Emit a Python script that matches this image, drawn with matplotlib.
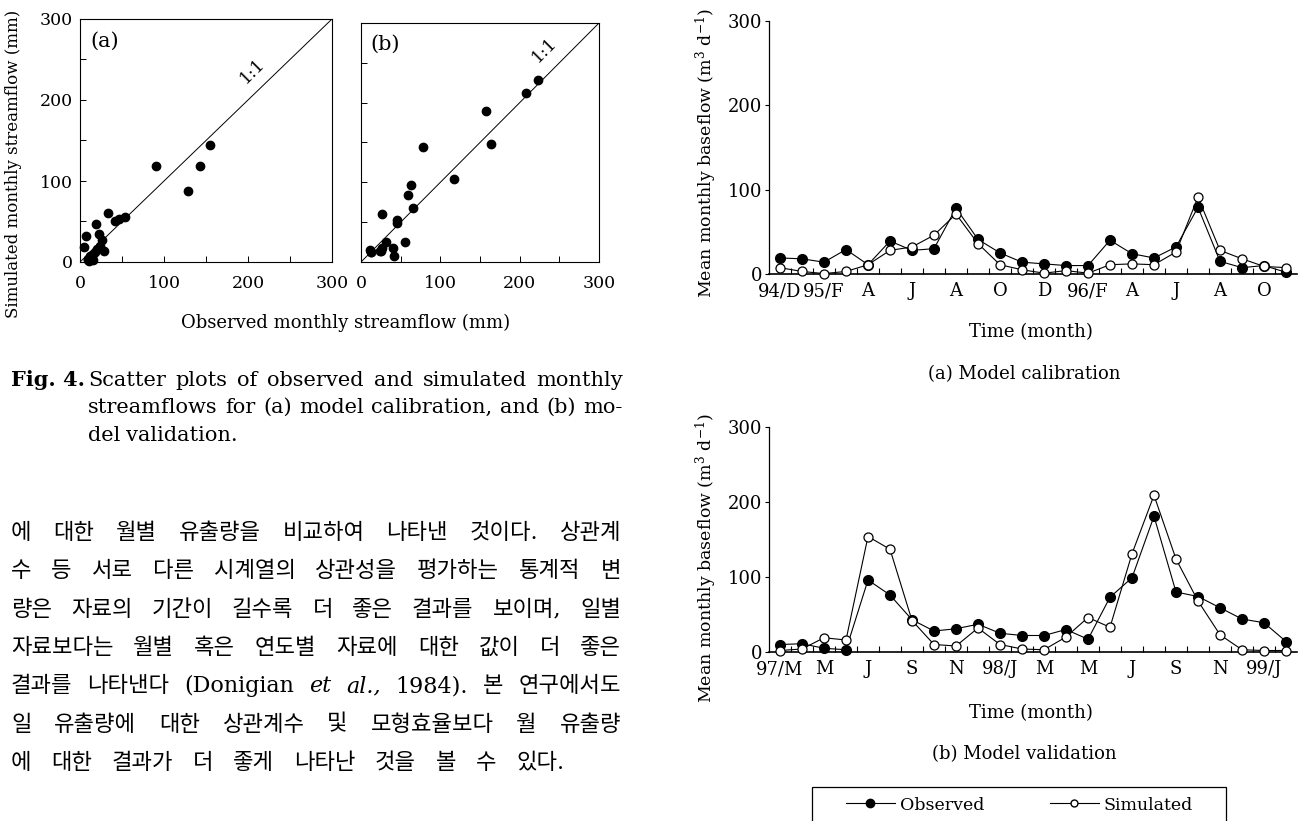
import matplotlib
matplotlib.use("Agg")
import matplotlib.pyplot as plt
from matplotlib.lines import Line2D
from matplotlib.patches import Rectangle
from matplotlib.ticker import MultipleLocator, FixedLocator
import numpy as np

plt.rcParams['font.family'] = ['DejaVu Serif', 'Noto Sans CJK KR']
plt.rcParams['mathtext.fontset'] = 'dejavuserif'

# ---- scatter data: monthly streamflow (mm) ----
obs_a = [91, 143, 128, 155, 33, 19, 7, 5, 23, 42, 47, 54, 26, 29, 20, 12, 10, 9, 16, 13, 24, 18, 11, 15]
sim_a = [118, 119, 88, 144, 60, 47, 32, 19, 34, 51, 53, 55, 27, 14, 16, 8, 4, 2, 10, 6, 20, 12, 1, 3]
obs_b = [223, 208, 158, 164, 78, 117, 63, 59, 65, 26, 45, 46, 31, 56, 11, 13, 24, 27, 40, 42, 12, 25]
sim_b = [229, 212, 189, 148, 144, 104, 97, 84, 68, 60, 53, 49, 25, 25, 15, 12, 14, 17, 17, 7, 13, 14]

# ---- time series: mean monthly baseflow ----
cal_labels = ['94/D', '95/F', 'A', 'J', 'A', 'O', 'D', '96/F', 'A', 'J', 'A', 'O']
cal_obs = [19, 18, 14, 29, 11, 39, 28, 30, 78, 41, 25, 14, 12, 10, 10, 40, 24, 19, 32, 79, 15, 7.5, 10, 2]
cal_sim = [7.5, 3, 0.5, 3, 11, 28, 32, 46, 71, 36, 11, 5, 1, 4, 1, 11, 12, 11, 26, 91, 28, 18, 9, 7.5]

val_labels = ['97/M', 'M', 'J', 'S', 'N', '98/J', 'M', 'M', 'J', 'S', 'N', '99/J']
val_obs = [10, 11, 5, 3, 96, 76, 43, 28, 31, 37, 25, 22, 22, 30, 17, 73, 99, 181, 80, 74, 59, 44, 39, 14]
val_sim = [2, 4, 19, 16, 154, 137, 42, 10, 8, 32, 10, 4, 3, 20, 46, 33, 131, 209, 124, 68, 23, 3, 2, 2]

caption_lines = ["Scatter plots of observed and simulated monthly",
                 "streamflows for (a) model calibration, and (b) mo-",
                 "del validation."]

# words between | | are set in italics
kor_lines = [
    "에 대한 월별 유출량을 비교하여 나타낸 것이다. 상관계",
    "수 등 서로 다른 시계열의 상관성을 평가하는 통계적 변",
    "량은 자료의 기간이 길수록 더 좋은 결과를 보이며, 일별",
    "자료보다는 월별 혹은 연도별 자료에 대한 값이 더 좋은",
    "결과를 나타낸다 (Donigian |et al.,| 1984). 본 연구에서도",
    "일 유출량에 대한 상관계수 및 모형효율보다 월 유출량",
    "에 대한 결과가 더 좋게 나타난 것을 볼 수 있다.",
]

W, H = 1298, 821
fig = plt.figure(figsize=(W / 100, H / 100), dpi=100)


def box(l, t, r, b):
    return [l / W, 1 - b / H, (r - l) / W, (b - t) / H]


def fx(x):
    return x / W


def fy(y):
    return 1 - y / H


# ---------------- scatter plots ----------------
for rect, xs, ys, tag, lab_xy in [((80, 19, 332, 262), obs_a, sim_a, '(a)', (206, 236)),
                                  ((361, 23, 599, 262), obs_b, sim_b, '(b)', (232, 266))]:
    ax = fig.add_axes(box(*rect))
    ax.plot([0, 300], [0, 300], color='k', lw=0.7)
    ax.plot(xs, ys, 'o', color='k', ms=6, clip_on=False)
    ax.set_xlim(0, 300)
    ax.set_ylim(0, 300)
    ax.xaxis.set_major_locator(MultipleLocator(100))
    ax.yaxis.set_major_locator(MultipleLocator(100))
    ax.xaxis.set_minor_locator(MultipleLocator(50))
    ax.yaxis.set_minor_locator(MultipleLocator(50))
    ax.tick_params(which='both', direction='in', top=False, right=False,
                   length=4, width=0.7, labelsize=12.5)
    ax.tick_params(axis='x', pad=9)
    ax.tick_params(axis='y', pad=5)
    for s in ax.spines.values():
        s.set_linewidth(0.8)
    ax.text(0.04, 0.91, tag, transform=ax.transAxes, fontsize=15, va='center')
    ax.text(lab_xy[0], lab_xy[1], '1:1', rotation=45, fontsize=12.5,
            ha='center', va='center')
    if tag == '(b)':
        ax.set_yticklabels([])

fig.text(fx(14), fy(164), 'Simulated monthly streamflow (mm)', rotation=90,
         ha='center', va='center', fontsize=12)
fig.text(fx(346), fy(323), 'Observed monthly streamflow (mm)',
         ha='center', va='center', fontsize=13)

# ---------------- time series ----------------
months = np.arange(24)
for rect, obs, sim, labels, ylab_y, xlab_y, sub_y, sub in [
        ((769, 20.7, 1297, 274), cal_obs, cal_sim, cal_labels, 153, 332, 374, '(a) Model calibration'),
        ((769, 427, 1297, 652), val_obs, val_sim, val_labels, 558, 713, 754, '(b) Model validation')]:
    ax = fig.add_axes(box(*rect))
    ax.plot(months, obs, '-o', color='k', mfc='k', ms=7, lw=0.8, clip_on=False, zorder=3)
    ax.plot(months, sim, '-o', color='k', mfc='white', ms=6.5, mew=0.9, lw=0.8,
            clip_on=False, zorder=4)
    ax.set_xlim(-0.5, 23.5)
    ax.set_ylim(0, 300)
    ax.spines['top'].set_visible(False)
    ax.spines['right'].set_visible(False)
    ax.spines['left'].set_linewidth(0.9)
    ax.spines['bottom'].set_linewidth(1.2)
    ax.set_xticks(months[::2])
    ax.set_xticklabels(labels)
    ax.xaxis.set_minor_locator(FixedLocator(np.arange(0.5, 23, 1)))
    ax.tick_params(axis='x', which='major', length=0, pad=6, labelsize=13)
    ax.tick_params(axis='x', which='minor', direction='in', length=4, width=0.8)
    ax.set_yticks([0, 100, 200, 300])
    ax.tick_params(axis='y', direction='out', length=3, width=0.8, pad=2, labelsize=13)
    fig.text(fx(706), fy(ylab_y), 'Mean monthly baseflow (m$^3$ d$^{-1}$)',
             rotation=90, ha='center', va='center', fontsize=12.5)
    fig.text(fx(1031), fy(xlab_y), 'Time (month)', ha='center', va='center', fontsize=13)
    fig.text(fx(1024), fy(sub_y), sub, ha='center', va='center', fontsize=13)

# legend box, partly running off the bottom of the page
fig.add_artist(Rectangle((fx(812), fy(835)), fx(1226) - fx(812), fy(787) - fy(835),
                         transform=fig.transFigure, fill=False, ec='k', lw=0.9))
handles = [Line2D([], [], color='k', marker='o', mfc='k', ms=6, lw=0.8),
           Line2D([], [], color='k', marker='o', mfc='white', ms=5, lw=0.8)]
fig.legend(handles, ['Observed', 'Simulated'], loc='center left',
           bbox_to_anchor=(fx(846), fy(805)), ncol=2, frameon=False,
           borderaxespad=0, borderpad=0, handlelength=2.8, handletextpad=0.3,
           columnspacing=3.8, fontsize=12.5)

# ---------------- caption and body text ----------------
renderer = fig.canvas.get_renderer()


def put_line(y, line, x0, x1, size, justify=True, gap=None):
    parts = []
    for i, seg in enumerate(line.split('|')):
        for w in seg.split():
            parts.append((w, 'italic' if i % 2 == 1 else 'normal'))
    texts = [fig.text(fx(x0), fy(y), w, style=st, fontsize=size, va='center', ha='left')
             for w, st in parts]
    widths = [t.get_window_extent(renderer=renderer).width for t in texts]
    if justify and len(texts) > 1:
        gap = (x1 - x0 - sum(widths)) / (len(texts) - 1)
    x = x0
    for t, wd in zip(texts, widths):
        t.set_x(fx(x))
        x += wd + gap
    return gap


fig.text(fx(11), fy(380), 'Fig. 4.', fontsize=15, fontweight='bold', va='center')
put_line(380, caption_lines[0], 88, 623, 15)
put_line(407, caption_lines[1], 88, 623, 15)
put_line(435, caption_lines[2], 88, 623, 15, justify=False, gap=6)

gaps = []
for i, line in enumerate(kor_lines):
    y = 533 + i * 38.3
    if i < len(kor_lines) - 1:
        gaps.append(put_line(y, line, 11, 621, 16))
    else:
        put_line(y, line, 11, 621, 16, justify=False, gap=np.mean(gaps))

fig.savefig('out.png', dpi=100)
